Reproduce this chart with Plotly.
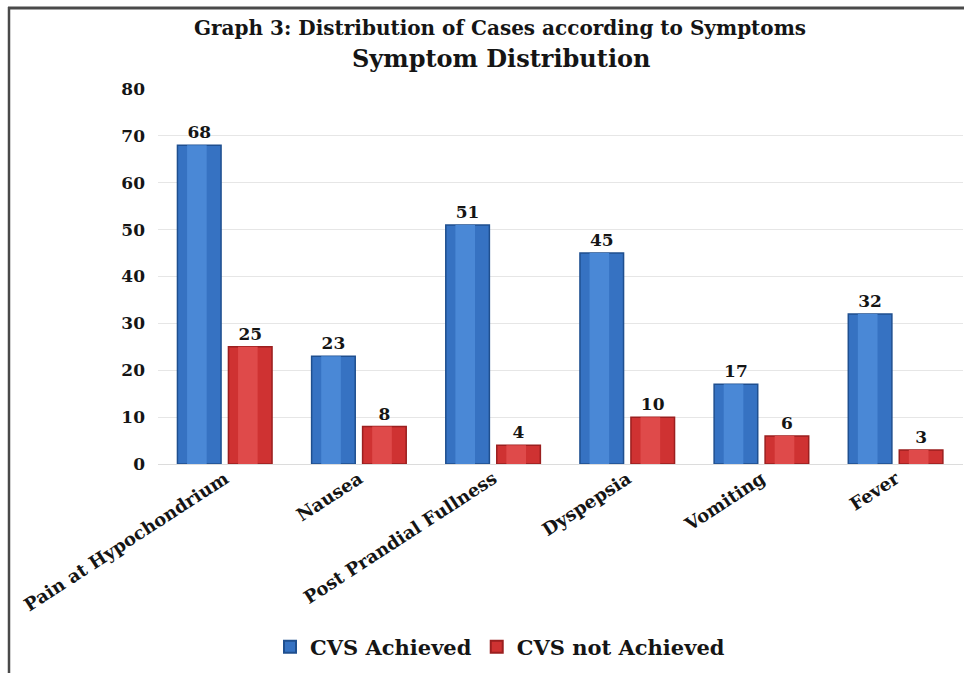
import plotly.graph_objects as go

# Symptom counts per group
symptoms = ["Pain at Hypochondrium", "Nausea", "Post Prandial Fullness",
            "Dyspepsia", "Vomiting", "Fever"]
cvs_achieved = [68, 23, 51, 45, 17, 32]
cvs_not_achieved = [25, 8, 4, 10, 6, 3]
y_ticks = [0, 10, 20, 30, 40, 50, 60, 70, 80]

FONT = "DejaVu Serif"
INK = "#151515"

# plot-area geometry (pixels) used to place the frame and headings
W, H = 964, 673
ML, MR, MT, MB = 158, 1, 89, 209
PW, PH = W - ML - MR, H - MT - MB


def px_x(p):
    return (p - ML) / PW


def px_y(p):
    return 1 - (p - MT) / PH


series = [
    dict(name="CVS Achieved", y=cvs_achieved, offset=-0.355,
         edge="#1f4f8f", body="#3672c2", shine="#4a88d6"),
    dict(name="CVS not Achieved", y=cvs_not_achieved, offset=0.025,
         edge="#9b1f1f", body="#cf3232", shine="#df4a4a"),
]
BAR_W = 0.325

fig = go.Figure()
for s in series:
    # cylinder body
    fig.add_trace(go.Bar(
        x=symptoms, y=s["y"], name=s["name"],
        width=BAR_W, offset=s["offset"],
        marker=dict(color=s["body"], line=dict(color=s["edge"], width=1.5)),
        text=[str(v) for v in s["y"]], textposition="outside",
        textfont=dict(family=FONT, size=17, color=INK, weight="bold"),
        cliponaxis=False,
    ))
    # highlight stripe down the middle of each bar
    fig.add_trace(go.Bar(
        x=symptoms, y=s["y"], showlegend=False, hoverinfo="skip",
        width=BAR_W * 0.45, offset=s["offset"] + BAR_W * 0.22,
        marker=dict(color=s["shine"], line=dict(width=0)),
    ))

fig.update_layout(
    width=W, height=H,
    margin=dict(l=ML, r=MR, t=MT, b=MB, pad=0),
    paper_bgcolor="white", plot_bgcolor="white",
    barmode="overlay",
    font=dict(family=FONT, color=INK, weight="bold"),
    showlegend=True,
    legend=dict(
        orientation="h", x=px_x(500), y=px_y(647),
        xanchor="center", yanchor="middle",
        font=dict(family=FONT, size=21, color=INK, weight="bold"),
        itemsizing="constant", itemwidth=30, tracegroupgap=0,
        traceorder="normal",
    ),
    xaxis=dict(
        tickangle=-33, showgrid=False, showline=False, ticks="",
        tickfont=dict(family=FONT, size=18, color=INK, weight="bold"),
    ),
    yaxis=dict(
        range=[0, 80], tickvals=y_ticks, showgrid=True,
        gridcolor="#e6e6e6", gridwidth=1, zeroline=True,
        zerolinecolor="#dcdcdc", zerolinewidth=1, showline=False,
        ticks="", ticklabelstandoff=12,
        tickfont=dict(family=FONT, size=17, color=INK, weight="bold"),
    ),
    annotations=[
        dict(text="Graph 3: Distribution of Cases according to Symptoms",
             xref="paper", yref="paper", x=px_x(500), y=px_y(28),
             xanchor="center", yanchor="middle", showarrow=False,
             font=dict(family=FONT, size=20, color=INK, weight="bold")),
        dict(text="Symptom Distribution",
             xref="paper", yref="paper", x=px_x(501), y=px_y(59),
             xanchor="center", yanchor="middle", showarrow=False,
             font=dict(family=FONT, size=24, color=INK, weight="bold")),
    ],
    shapes=[
        dict(type="line", xref="paper", yref="paper",
             x0=px_x(8), x1=px_x(964), y0=px_y(8), y1=px_y(8),
             line=dict(color="#4a4a4a", width=3)),
        dict(type="line", xref="paper", yref="paper",
             x0=px_x(9), x1=px_x(9), y0=px_y(7), y1=px_y(673),
             line=dict(color="#4a4a4a", width=2.5)),
    ],
)

fig.write_html("out.html")
